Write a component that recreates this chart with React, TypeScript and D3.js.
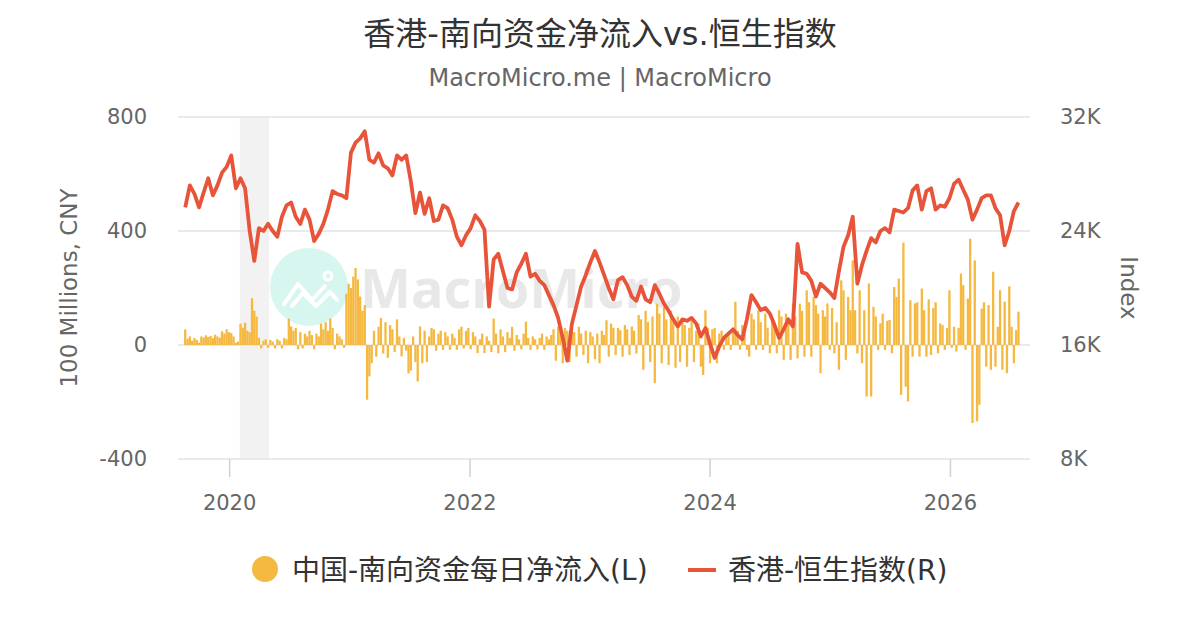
import * as d3 from 'd3';

// weekly southbound net inflow (100M CNY), first week starting 2019-08-19
const flowStart = new Date(2019, 7, 19);
const netFlow = [
  55, 22, 30, 15, 24, 18, 8, 30, 26, 34,
  28, 32, 24, 36, 30, 26, 48, 40, 55, 45,
  42, 30, 8, 12, 75, 60, 78, 50, 45, 164,
  120, 100, 25, -12, 15, 20, -10, 18, 12, -12,
  20, 15, -12, 25, 20, 93, 65, 50, 60, -15,
  45, -12, 40, 30, 50, 35, -15, 40, 30, 75,
  55, 80, 50, 93, 60, -15, 40, 30, 20, -10,
  180, 215, 200, 240, 270, 230, 170, 120, 140, -192,
  -110, -64, 50, -41, 64, 95, -30, 80, -45, 70,
  55, -25, 90, 30, -40, 25, -20, -100, -90, 30,
  -60, -128, 65, -64, 50, -60, 30, 60, 55, -20,
  40, 50, -17, 45, 30, -17, 40, 25, -17, 55,
  64, -12, 50, 60, -15, 45, 30, -28, 20, 40,
  -28, 30, 15, -25, 93, 40, -29, 55, 30, -25,
  45, 25, 64, -20, 35, 20, -15, 40, 82, 25,
  -17, 30, 20, -15, 25, 40, -17, 30, 20, 35,
  55, -55, 64, 45, -64, 60, 50, -60, 55, 45,
  -41, 64, 40, -35, 50, -64, 45, 30, -50, 40,
  -64, 50, 35, 87, -41, 75, 60, -35, 60, 52,
  -41, 70, 55, -35, 65, 50, -30, 105, 90, -87,
  120, 80, -60, 100, -134, 145, 110, -64, 134, 90,
  -70, 120, 80, -80, 100, -60, 90, 70, -76, 60,
  85, -60, 50, 75, -76, -105, 122, 60, -64, 55,
  60, -64, 40, 50, -17, 30, 45, -17, 60, 152,
  50, -17, 70, 40, -17, -41, 110, 90, -17, 122,
  80, -17, 110, 60, -29, 90, 65, -29, 122, 100,
  -52, 110, 80, -52, 145, 100, -47, 145, 120, -41,
  192, 150, -41, 169, 140, 110, -99, 122, 100, 146,
  -17, 130, -29, 80, -87, 227, 192, -52, 169, 122,
  297, 122, -30, 192, -64, 122, -181, 216, -181, 134,
  100, -17, 76, 110, -17, 85, 88, -29, 204, 169,
  233, -175, 359, -146, -198, 157, -41, 146, 150, -41,
  198, 122, -41, 160, -35, 130, 150, -29, 76, 70,
  -17, 60, 192, -10, 64, -23, 60, 251, 210, -17,
  163, 373, -274, 297, -268, -210, 128, 150, -76, 140,
  -87, 257, -76, 64, 192, -87, 152, -99, 206, 64,
  -64, 52, 117,
];

// Hang Seng Index, every two weeks from the same start
const hsiIndex = [
  25660, 27200, 26600, 25660, 26700, 27700, 26500, 27200, 28100, 28500,
  29300, 27000, 27700, 27000, 24000, 21900, 24200, 24000, 24500, 24000,
  23600, 25000, 25800, 26000, 25000, 24500, 25500, 24800, 23300, 23800,
  24500, 25500, 26800, 26600, 26500, 26300, 29500, 30200, 30500, 31000,
  29000, 28800, 29450, 28600, 28400, 27900, 29300, 29000, 29300, 27500,
  25250, 26700, 25200, 26300, 24700, 24800, 25800, 25600, 24800, 23600,
  23000, 23700, 24200, 25100, 24700, 24100, 18700, 22000, 22400, 21200,
  20000, 19900, 21100, 21700, 22400, 20800, 21000, 20500, 20200, 19500,
  18800, 17900, 16500, 14900, 17500, 18800, 20100, 20900, 21800, 22600,
  21800, 20900, 20000, 19200, 20550, 20760, 20200, 19400, 19100, 20100,
  19200, 19000, 20200, 19600, 18900, 18400, 17800, 17300, 17800, 17700,
  17900, 17500, 16600, 17190, 16100, 15100, 15900, 16500, 16800, 17100,
  16700, 16400, 17800, 19500, 19000, 18450, 18600, 18200, 17400, 16500,
  17100, 17800, 17300, 23100, 21100, 21000, 20500, 19400, 20300, 20000,
  19700, 19300, 21200, 22900, 23700, 25000, 20300, 21600, 22600, 23500,
  23200, 24000, 24200, 23900, 25500, 25400, 25300, 25600, 26850, 27200,
  25500, 26800, 27000, 25500, 25800, 25700, 26300, 27300, 27600, 26900,
  26200, 24800, 25500, 26300, 26500, 26500, 25600, 25100, 23000, 24000,
  25400, 26000,
];

const yearTicks = [2020, 2022, 2024, 2026];
const leftTicks = [-400, 0, 400, 800];
const rightTicks = [8000, 16000, 24000, 32000];
const recession = [new Date(2020, 1, 1), new Date(2020, 3, 30)];

const font = '"DejaVu Sans", "Noto Sans CJK SC", sans-serif';
const barColor = '#f5b942';
const lineColor = '#e8543a';

export default function App() {
  const left = 178;
  const right = 1030;
  const top = 117;
  const bottom = 459;

  const x = d3
    .scaleTime()
    .domain([new Date(2019, 6, 28), new Date(2026, 7, 31)])
    .range([left, right]);
  const yL = d3.scaleLinear().domain([-400, 800]).range([bottom, top]);
  const yR = d3.scaleLinear().domain([8000, 32000]).range([bottom, top]);

  const flowDates = netFlow.map((_, i) => d3.timeDay.offset(flowStart, i * 7));
  const hsiDates = hsiIndex.map((_, i) => d3.timeDay.offset(flowStart, i * 14));

  const line = d3
    .line<number>()
    .x((_, i) => x(hsiDates[i]))
    .y((d) => yR(d));

  const barW = 2.3;

  return (
    <svg
      width={1200}
      height={630}
      style={{ position: 'absolute', left: 0, top: 0, background: '#fff' }}
      fontFamily={font}
    >
      <text x={600} y={45} textAnchor="middle" fontSize={32} fill="#333">
        香港-南向资金净流入vs.恒生指数
      </text>
      <text x={600} y={86} textAnchor="middle" fontSize={24} fill="#666">
        MacroMicro.me | MacroMicro
      </text>

      {/* recession band */}
      <rect
        x={x(recession[0])}
        y={top}
        width={x(recession[1]) - x(recession[0])}
        height={bottom - top}
        fill="#f2f2f2"
      />

      {leftTicks.map((t) => (
        <line key={t} x1={left} x2={right} y1={yL(t)} y2={yL(t)} stroke="#e3e3e3" strokeWidth={1.5} />
      ))}

      {/* watermark */}
      <g>
        <circle cx={309} cy={287} r={39} fill="#d7f6ef" />
        <polyline
          points="284,304 298,284 312,300 325,286"
          fill="none"
          stroke="#fff"
          strokeWidth={4}
          strokeLinecap="round"
          strokeLinejoin="round"
        />
        <polyline
          points="292,306 303,293 316,306 330,292 337,300"
          fill="none"
          stroke="#fff"
          strokeWidth={4}
          strokeLinecap="round"
          strokeLinejoin="round"
        />
        <circle cx={328} cy={276} r={4} fill="none" stroke="#fff" strokeWidth={3} />
        <text x={360} y={308} fontSize={54} fontWeight={700} fill="#e8e8e8" fontFamily="'Open Sans', sans-serif">
          MacroMicro
        </text>
      </g>

      {netFlow.map((v, i) => (
        <rect
          key={i}
          x={x(flowDates[i]) - barW / 2}
          y={Math.min(yL(v), yL(0))}
          width={barW}
          height={Math.abs(yL(v) - yL(0))}
          fill={barColor}
        />
      ))}

      <path d={line(hsiIndex) || ''} fill="none" stroke={lineColor} strokeWidth={3.8} strokeLinejoin="round" />

      {/* x axis */}
      {yearTicks.map((yr) => {
        const px = x(new Date(yr, 0, 1));
        return (
          <g key={yr}>
            <line x1={px} x2={px} y1={bottom} y2={bottom + 18} stroke="#d0d0d0" strokeWidth={1.5} />
            <text x={px} y={510} textAnchor="middle" fontSize={21} fill="#666">
              {yr}
            </text>
          </g>
        );
      })}

      {leftTicks.map((t) => (
        <text key={t} x={147} y={yL(t) + 7} textAnchor="end" fontSize={21} fill="#666">
          {t}
        </text>
      ))}
      {rightTicks.map((t) => (
        <text key={t} x={1060} y={yR(t) + 7} textAnchor="start" fontSize={21} fill="#666">
          {t / 1000}K
        </text>
      ))}

      <text transform="translate(77,288) rotate(-90)" textAnchor="middle" fontSize={23} fill="#666">
        100 Millions, CNY
      </text>
      <text transform="translate(1121,288) rotate(90)" textAnchor="middle" fontSize={23} fill="#666">
        Index
      </text>

      {/* legend */}
      <circle cx={265} cy={569} r={13} fill={barColor} />
      <text x={292} y={580} fontSize={28} fill="#333">
        中国-南向资金每日净流入(L)
      </text>
      <line x1={688} x2={716} y1={570} y2={570} stroke={lineColor} strokeWidth={4} />
      <text x={728} y={580} fontSize={28} fill="#333">
        香港-恒生指数(R)
      </text>
    </svg>
  );
}
